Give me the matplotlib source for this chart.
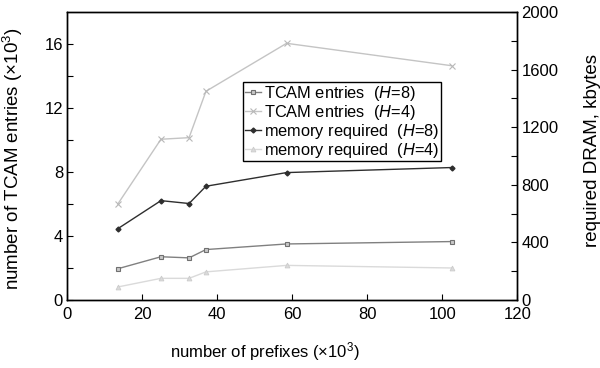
import matplotlib.pyplot as plt

plt.rcParams['font.family'] = ['Liberation Sans', 'DejaVu Sans']
plt.rcParams['mathtext.fontset'] = 'custom'
plt.rcParams['mathtext.rm'] = 'Liberation Sans'
plt.rcParams['mathtext.it'] = 'Liberation Sans:italic'

prefixes = [13.5, 25, 32.5, 37, 58.5, 102.5]
tcam_h8 = [1.95, 2.7, 2.63, 3.15, 3.5, 3.65]
tcam_h4 = [6.0, 10.05, 10.15, 13.05, 16.05, 14.65]
mem_h8 = [495, 690, 670, 790, 885, 920]
mem_h4 = [90, 150, 150, 195, 240, 222]

fig, ax = plt.subplots(figsize=(6, 3.68), dpi=100)
ax2 = ax.twinx()

l1, = ax.plot(prefixes, tcam_h8, color='#808080', lw=1, marker='s', ms=3.5,
              mfc='#c8c8c8', mec='#707070', mew=0.8)
l2, = ax.plot(prefixes, tcam_h4, color='#c4c4c4', lw=1, marker='x', ms=4,
              mec='#b8b8b8', mew=0.8)
l3, = ax2.plot(prefixes, mem_h8, color='#2e2e2e', lw=1, marker='D', ms=2.5,
               mfc='#2e2e2e', mec='#2e2e2e')
l4, = ax2.plot(prefixes, mem_h4, color='#dadada', lw=1, marker='^', ms=3.5,
               mfc='#dadada', mec='#cccccc', mew=0.6)

ax.set_xlim(0, 120)
ax.set_ylim(0, 18)
ax2.set_ylim(0, 2000)
ax.set_xticks(range(0, 121, 20))
ax.set_yticks([0, 4, 8, 12, 16])
ax.set_yticks(range(2, 18, 4), minor=True)
ax2.set_yticks(range(0, 2001, 400))
ax2.set_yticks(range(200, 2000, 400), minor=True)

for a in (ax, ax2):
    a.tick_params(which='both', direction='in', length=4, width=0.8,
                  labelsize=12, pad=3)
    for s in a.spines.values():
        s.set_linewidth(1)
ax.tick_params(axis='x', pad=5)

ax.set_xlabel('number of prefixes ($\\times$10$^3$)', fontsize=12)
ax.xaxis.set_label_coords(0.44, -0.14)
ax.set_ylabel('number of TCAM entries ($\\times$10$^3$)', fontsize=13.5)
ax.yaxis.set_label_coords(-0.094, 0.49)
ax2.set_ylabel('required DRAM, kbytes', fontsize=13.5)
ax2.yaxis.set_label_coords(1.148, 0.52)

labels = ['TCAM entries  ($H$=8)', 'TCAM entries  ($H$=4)',
          'memory required  ($H$=8)', 'memory required  ($H$=4)']
leg = ax2.legend([l1, l2, l3, l4], labels, loc='upper left',
                 bbox_to_anchor=(0.391, 0.757), fontsize=11.8, frameon=True,
                 fancybox=False, edgecolor='black', framealpha=1,
                 handlelength=1.0, handletextpad=0.2, borderpad=0.1,
                 labelspacing=0.0, borderaxespad=0)
leg.get_frame().set_linewidth(1)

fig.subplots_adjust(left=0.112, right=0.862, top=0.967, bottom=0.185)
fig.savefig('out.png')
